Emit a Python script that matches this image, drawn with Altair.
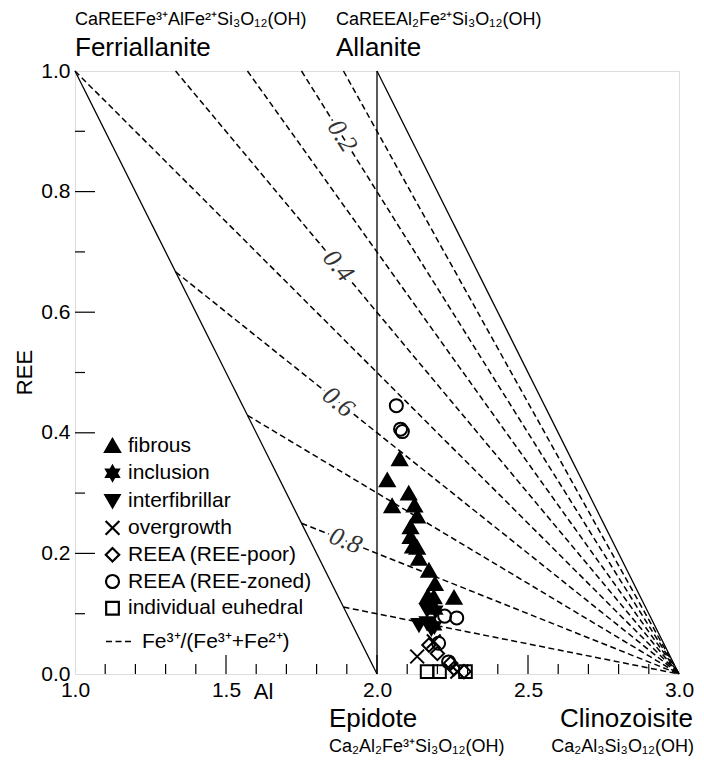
import altair as alt
import pandas as pd

SANS = "Liberation Sans, Arial, sans-serif"
SERIF = "Liberation Serif, Times New Roman, serif"

# ---- end-member tie lines (Al, REE) ----
boundary_names = ["Ferriallanite-Epidote", "Allanite-Epidote", "Allanite-Clinozoisite"]
boundary_al_start = [1.0, 2.0, 2.0]
boundary_ree_start = [1.0, 1.0, 1.0]
boundary_al_end = [2.0, 2.0, 3.0]
boundary_ree_end = [0.0, 0.0, 0.0]

# ---- Fe3+/(Fe3+ + Fe2+) iso-lines, all converging on clinozoisite (3, 0) ----
ratio_values = [0.1, 0.2, 0.3, 0.4, 0.5, 0.6, 0.7, 0.8, 0.9]
ratio_al_start = [1.889, 1.75, 1.571, 1.333, 1.0, 1.333, 1.571, 1.75, 1.889]
ratio_ree_start = [1.0, 1.0, 1.0, 1.0, 1.0, 0.667, 0.429, 0.25, 0.111]
ratio_al_end = [3.0] * 9
ratio_ree_end = [0.0] * 9
ratio_legend_label = "Fe³⁺/(Fe³⁺+Fe²⁺)"

# labels on iso-lines
ratio_label_text = ["0.2", "0.4", "0.6", "0.8"]
ratio_label_al = [1.885, 1.872, 1.872, 1.896]
ratio_label_ree = [0.892, 0.677, 0.451, 0.221]
ratio_label_angle = [58, 50, 39, 22]

# ---- tick values ----
x_label_values = [1.0, 1.5, 2.0, 2.5, 3.0]
y_label_values = [0.0, 0.2, 0.4, 0.6, 0.8, 1.0]
x_major_ticks = [1.5, 2.0, 2.5]
x_minor_ticks = [1.1, 1.2, 1.3, 1.4, 1.6, 1.7, 1.8, 1.9, 2.1, 2.2, 2.3, 2.4, 2.6, 2.7, 2.8, 2.9]
y_major_ticks = [0.2, 0.4, 0.6, 0.8]
y_minor_ticks = [0.1, 0.3, 0.5, 0.7, 0.9]

# ---- analyses ----
types = ["fibrous", "inclusion", "interfibrillar", "overgrowth",
         "REEA (REE-poor)", "REEA (REE-zoned)", "individual euhedral"]

fibrous_al = [2.075, 2.034, 2.105, 2.050, 2.124, 2.133, 2.111, 2.111, 2.119, 2.133,
              2.139, 2.172, 2.192, 2.168, 2.188, 2.255]
fibrous_ree = [0.357, 0.322, 0.300, 0.279, 0.280, 0.262, 0.244, 0.228, 0.212, 0.210,
               0.192, 0.172, 0.150, 0.129, 0.128, 0.127]
inclusion_al = [2.194, 2.190]
inclusion_ree = [0.106, 0.080]
interfibrillar_al = [2.166, 2.139, 2.166, 2.180]
interfibrillar_ree = [0.106, 0.081, 0.084, 0.075]
overgrowth_al = [2.188, 2.133, 2.266]
overgrowth_ree = [0.054, 0.029, 0.004]
poor_al = [2.172, 2.200, 2.244, 2.255, 2.288]
poor_ree = [0.048, 0.034, 0.018, 0.009, 0.004]
zoned_al = [2.064, 2.078, 2.084, 2.224, 2.264, 2.204, 2.237]
zoned_ree = [0.445, 0.406, 0.402, 0.096, 0.093, 0.051, 0.020]
euhedral_al = [2.166, 2.207, 2.293]
euhedral_ree = [0.004, 0.004, 0.004]

series_al = [fibrous_al, inclusion_al, interfibrillar_al, overgrowth_al, poor_al, zoned_al, euhedral_al]
series_ree = [fibrous_ree, inclusion_ree, interfibrillar_ree, overgrowth_ree, poor_ree, zoned_ree, euhedral_ree]

# ---- build tables ----
rows = []
for t, a_list, r_list in zip(types, series_al, series_ree):
    for a, r in zip(a_list, r_list):
        rows.append({"Al": a, "REE": r, "type": t})
points_df = pd.DataFrame(rows)

brows = []
for n, a0, r0, a1, r1 in zip(boundary_names, boundary_al_start, boundary_ree_start,
                              boundary_al_end, boundary_ree_end):
    brows.append({"seg": n, "Al": a0, "REE": r0, "o": 0})
    brows.append({"seg": n, "Al": a1, "REE": r1, "o": 1})
boundary_df = pd.DataFrame(brows)

rrows = []
for f, a0, r0, a1, r1 in zip(ratio_values, ratio_al_start, ratio_ree_start, ratio_al_end, ratio_ree_end):
    rrows.append({"ratio": f, "Al": a0, "REE": r0, "o": 0, "series": ratio_legend_label})
    rrows.append({"ratio": f, "Al": a1, "REE": r1, "o": 1, "series": ratio_legend_label})
ratio_df = pd.DataFrame(rrows)

label_df = pd.DataFrame({"t": ratio_label_text, "Al": ratio_label_al,
                         "REE": ratio_label_ree, "ang": ratio_label_angle})

W, H = 604, 603
xs = alt.Scale(domain=[1.0, 3.0], nice=False, zero=False)
ys = alt.Scale(domain=[0.0, 1.0], nice=False, zero=False)

x_axis = alt.Axis(values=x_label_values, format=".1f", title="Al", titleX=188, titleY=24,
                  titleAlign="center", titleBaseline="alphabetic", titleFontSize=22,
                  titleFontWeight="normal", titleFont=SANS, titleColor="black",
                  labelFontSize=21, labelFont=SANS, labelColor="black", labelPadding=5,
                  ticks=False, tickSize=0, domain=False, grid=False, labelFlush=False)
y_axis = alt.Axis(values=y_label_values, format=".1f", title="REE", titleX=-44, titleY=301,
                  titleAngle=270, titleAlign="center", titleBaseline="alphabetic",
                  titleFontSize=22, titleFontWeight="normal", titleFont=SANS, titleColor="black",
                  labelFontSize=21, labelFont=SANS, labelColor="black", labelPadding=5,
                  ticks=False, tickSize=0, domain=False, grid=False, labelFlush=False)


def X(f="Al"):
    return alt.X(f, type="quantitative", scale=xs, axis=x_axis)


def Y(f="REE"):
    return alt.Y(f, type="quantitative", scale=ys, axis=y_axis)


# inward ticks
xt_major = alt.Chart(pd.DataFrame({"v": x_major_ticks})).mark_rule(color="black", strokeWidth=1.2).encode(
    x=X("v"), y=alt.value(H), y2=alt.value(H - 19))
xt_minor = alt.Chart(pd.DataFrame({"v": x_minor_ticks})).mark_rule(color="black", strokeWidth=1.2).encode(
    x=X("v"), y=alt.value(H), y2=alt.value(H - 10))
yt_major = alt.Chart(pd.DataFrame({"v": y_major_ticks})).mark_rule(color="black", strokeWidth=1.2).encode(
    y=Y("v"), x=alt.value(0), x2=alt.value(20))
yt_minor = alt.Chart(pd.DataFrame({"v": y_minor_ticks})).mark_rule(color="black", strokeWidth=1.2).encode(
    y=Y("v"), x=alt.value(0), x2=alt.value(10))

boundary = alt.Chart(boundary_df).mark_line(color="black", strokeWidth=1.3).encode(
    x=X(), y=Y(), detail="seg:N", order="o:Q")

ratio_lines = alt.Chart(ratio_df).mark_line(color="black", strokeWidth=1.5).encode(
    x=X(), y=Y(), detail="ratio:N", order="o:Q",
    strokeDash=alt.StrokeDash("series:N", scale=alt.Scale(domain=[ratio_legend_label], range=[[6, 3.5]]),
                              legend=alt.Legend(title=None, orient="none", legendX=30, legendY=556,
                                                symbolType="stroke", symbolSize=729,
                                                symbolStrokeColor="black", symbolStrokeWidth=1.5,
                                                labelFontSize=21, labelFont=SANS, labelColor="black",
                                                labelOffset=8, padding=0, labelLimit=400)))

label_halo = alt.Chart(label_df).mark_text(font=SERIF, fontStyle="italic", fontSize=26,
                                           stroke="white", strokeWidth=6, fill="white").encode(
    x=X(), y=Y(), text="t:N", angle=alt.Angle("ang:Q", scale=None))
label_text = alt.Chart(label_df).mark_text(font=SERIF, fontStyle="italic", fontSize=26,
                                           color="#333333").encode(
    x=X(), y=Y(), text="t:N", angle=alt.Angle("ang:Q", scale=None))

hexagram = "M0,-1L0.866,0.5L-0.866,0.5Z M0,1L-0.866,-0.5L0.866,-0.5Z"
xcross = "M-1,-1L1,1M-1,1L1,-1"
shape_range = ["triangle-up", hexagram, "triangle-down", xcross, "diamond", "circle", "square"]
fill_range = ["black", "black", "black", "transparent", "transparent", "transparent", "transparent"]
stroke_range = ["black"] * 7
size_range = [220, 160, 220, 140, 120, 225, 120]

pt_legend = alt.Legend(title=None, orient="none", legendX=27, legendY=364,
                       symbolStrokeColor="black", symbolStrokeWidth=2.2, symbolOpacity=1,
                       labelFontSize=21, labelFont=SANS, labelColor="black",
                       labelOffset=5, rowPadding=3.8, padding=0, labelLimit=400)

points = alt.Chart(points_df).mark_point(strokeWidth=2, opacity=1).encode(
    x=X(), y=Y(),
    shape=alt.Shape("type:N", scale=alt.Scale(domain=types, range=shape_range), legend=pt_legend),
    fill=alt.Fill("type:N", scale=alt.Scale(domain=types, range=fill_range), legend=pt_legend),
    stroke=alt.Stroke("type:N", scale=alt.Scale(domain=types, range=stroke_range), legend=pt_legend),
    size=alt.Size("type:N", scale=alt.Scale(domain=types, range=size_range), legend=pt_legend),
)

one = pd.DataFrame({"k": [0]})


def note(text, x, y, size, align="left", baseline="alphabetic"):
    return alt.Chart(one).mark_text(text=text, align=align, baseline=baseline, fontSize=size,
                                    font=SANS, color="black").encode(x=alt.value(x), y=alt.value(y))


notes = [
    note("CaREEFe³⁺AlFe²⁺Si₃O₁₂(OH)", 0, -46, 18),
    note("CaREEAl₂Fe²⁺Si₃O₁₂(OH)", 261, -46, 18),
    note("Ferriallanite", 0, -15, 26),
    note("Allanite", 261, -15, 26),
    note("Epidote", 254, 656, 26),
    note("Clinozoisite", 618, 656, 26, align="right"),
    note("Ca₂Al₂Fe³⁺Si₃O₁₂(OH)", 254, 681, 18),
    note("Ca₂Al₃Si₃O₁₂(OH)", 619, 681, 18, align="right"),
]

chart = alt.layer(
    xt_major, xt_minor, yt_major, yt_minor, boundary, ratio_lines, label_halo, label_text, points, *notes
).properties(
    width=W, height=H, autosize=alt.AutoSizeParams(type="none"),
    padding={"left": 67, "top": 63, "right": 17, "bottom": 83},
).configure_view(stroke="black", strokeWidth=2).configure(background="white")

chart.save("out.html", embed_options={"renderer": "svg", "actions": False})
